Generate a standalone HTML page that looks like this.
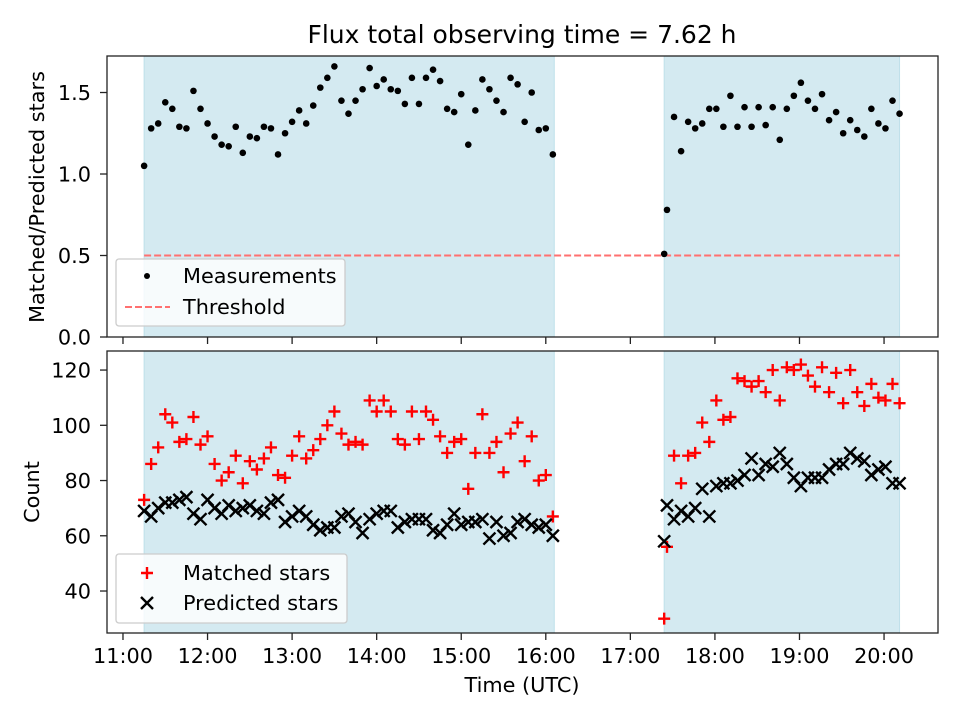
<!DOCTYPE html>
<html><head><meta charset="utf-8"><style>
body{margin:0;background:#fff;}
svg{display:block;font-family:"DejaVu Sans","Liberation Sans",sans-serif;}
</style></head><body>
<svg id="chart" width="960" height="720" xmlns="http://www.w3.org/2000/svg"></svg>
<script>
const times1 = ["11:15","11:20","11:25","11:30","11:35","11:40","11:45","11:50","11:55","12:00","12:05","12:10","12:15","12:20","12:25","12:30","12:35","12:40","12:45","12:50","12:55","13:00","13:05","13:10","13:15","13:20","13:25","13:30","13:35","13:40","13:45","13:50","13:55","14:00","14:05","14:10","14:15","14:20","14:25","14:30","14:35","14:40","14:45","14:50","14:55","15:00","15:05","15:10","15:15","15:20","15:25","15:30","15:35","15:40","15:45","15:50","15:55","16:00","16:05"];
const times2 = ["17:24","17:26","17:31","17:36","17:41","17:46","17:51","17:56","18:01","18:06","18:11","18:16","18:21","18:26","18:31","18:36","18:41","18:46","18:51","18:56","19:01","19:06","19:11","19:16","19:21","19:26","19:31","19:36","19:41","19:46","19:51","19:56","20:01","20:06","20:11"];
const ratio1 = [1.05,1.28,1.31,1.44,1.40,1.29,1.28,1.51,1.40,1.31,1.23,1.18,1.17,1.29,1.13,1.23,1.22,1.29,1.28,1.12,1.25,1.32,1.39,1.31,1.42,1.53,1.59,1.66,1.45,1.37,1.45,1.52,1.65,1.54,1.58,1.52,1.51,1.43,1.59,1.43,1.59,1.64,1.57,1.40,1.38,1.49,1.18,1.39,1.58,1.52,1.45,1.38,1.59,1.55,1.32,1.50,1.27,1.28,1.12];
const ratio2 = [0.51,0.78,1.35,1.14,1.32,1.28,1.31,1.40,1.40,1.29,1.48,1.29,1.41,1.29,1.41,1.30,1.41,1.21,1.40,1.48,1.56,1.45,1.40,1.49,1.33,1.38,1.25,1.33,1.27,1.23,1.40,1.31,1.28,1.45,1.37];
const matched1 = [73,86,92,104,101,94,95,103,93,96,86,80,83,89,79,87,84,88,92,82,81,89,96,88,91,95,100,105,97,93,94,93,109,105,109,105,95,93,105,95,105,102,96,90,94,95,77,90,104,90,94,83,97,101,87,96,80,82,67];
const predicted1 = [69,67,70,72,72,73,74,68,66,73,70,68,71,69,70,71,69,68,72,73,65,67,69,67,64,62,63,63,67,68,65,61,66,68,69,69,63,65,66,66,66,62,61,64,68,64,65,65,66,59,65,60,61,65,66,64,63,64,60];
const matched2 = [30,56,89,79,89,90,101,94,109,102,103,117,116,114,116,112,120,109,121,120,122,118,114,121,112,119,108,120,112,107,115,110,109,115,108];
const predicted2 = [58,71,66,69,67,70,77,67,78,79,79,80,82,88,82,86,85,90,86,81,78,81,81,81,84,86,86,90,88,87,82,84,85,79,79];
const title = "Flux total observing time = 7.62 h";
const xTickLabels = ["11:00","12:00","13:00","14:00","15:00","16:00","17:00","18:00","19:00","20:00"];
const topYTicks = [0.0,0.5,1.0,1.5];
const botYTicks = [40,60,80,100,120];
const spans = [["11:15","16:06"],["17:24","20:11"]];
const threshold = 0.5;

const NS="http://www.w3.org/2000/svg";
const svg=document.getElementById('chart');
function el(tag,attrs,parent){const e=document.createElementNS(NS,tag);for(const k in attrs)e.setAttribute(k,attrs[k]);(parent||svg).appendChild(e);return e;}
function hrs(t){const p=t.split(':');return +p[0]+(+p[1])/60;}
const L=107,R=938,T1=56,B1=337,T2=351,B2=633;
const xMin=10.811,xMax=20.638;
function xs(h){return L+(h-xMin)/(xMax-xMin)*(R-L);}
function y1(v){return B1-(v-0)/(1.724-0)*(B1-T1);}
const yb0=24.8,yb1=126.9;
function y2(v){return B2-(v-yb0)/(yb1-yb0)*(B2-T2);}
const FS=20.8;

function panel(T,B,name){
  const g=el('g',{});
  spans.forEach((s,i)=>{const r=el('rect',{x:xs(hrs(s[0])),y:T,width:xs(hrs(s[1]))-xs(hrs(s[0])),height:B-T,fill:'#d4eaf1',stroke:'#bfe0ea','stroke-width':1},g);
    });
  return g;
}
const gTop=panel(T1,B1,'ratio-panel');
const gBot=panel(T2,B2,'count-panel');

const th=el('line',{x1:xs(hrs(spans[0][0])),x2:xs(hrs(spans[1][1])),y1:y1(threshold),y2:y1(threshold),stroke:'#ff7070','stroke-width':2,'stroke-dasharray':'7,3'},gTop);



function dot(g,t,v){const c=el('circle',{cx:xs(hrs(t)),cy:y1(v),r:3.3,fill:'#000'},g);

}
times1.forEach((t,i)=>dot(gTop,t,ratio1[i]));
times2.forEach((t,i)=>dot(gTop,t,ratio2[i]));

function plus(g,cx,cy,name){const p=el('path',{d:`M${cx-6},${cy}H${cx+6}M${cx},${cy-6}V${cy+6}`,stroke:'#f00','stroke-width':2.4},g);

}
function cross(g,cx,cy,name){const p=el('path',{d:`M${cx-6},${cy-6}L${cx+6},${cy+6}M${cx-6},${cy+6}L${cx+6},${cy-6}`,stroke:'#000','stroke-width':2.4},g);

}
times1.forEach((t,i)=>plus(gBot,xs(hrs(t)),y2(matched1[i]),'matched-point'));
times2.forEach((t,i)=>plus(gBot,xs(hrs(t)),y2(matched2[i]),'matched-point'));
times1.forEach((t,i)=>cross(gBot,xs(hrs(t)),y2(predicted1[i]),'predicted-point'));
times2.forEach((t,i)=>cross(gBot,xs(hrs(t)),y2(predicted2[i]),'predicted-point'));

[[T1,B1,'ratio-frame'],[T2,B2,'count-frame']].forEach(f=>{const r=el('rect',{x:L,y:f[0],width:R-L,height:f[1]-f[0],fill:'none',stroke:'#222','stroke-width':1.3});
});

xTickLabels.forEach(lab=>{const x=xs(hrs(lab));
  el('line',{x1:x,x2:x,y1:B1,y2:B1+7,stroke:'#222','stroke-width':1.3});
  el('line',{x1:x,x2:x,y1:B2,y2:B2+7,stroke:'#222','stroke-width':1.3});
  const tx=el('text',{x:x,y:663,'text-anchor':'middle','font-size':FS,fill:'#000'});tx.textContent=lab;
  });
topYTicks.forEach(v=>{const y=y1(v);el('line',{x1:L-7,x2:L,y1:y,y2:y,stroke:'#222','stroke-width':1.3});
  const tx=el('text',{x:L-16,y:y+7.5,'text-anchor':'end','font-size':FS});tx.textContent=v.toFixed(1);
  });
botYTicks.forEach(v=>{const y=y2(v);el('line',{x1:L-7,x2:L,y1:y,y2:y,stroke:'#222','stroke-width':1.3});
  const tx=el('text',{x:L-16,y:y+7.5,'text-anchor':'end','font-size':FS});tx.textContent=v;
  });

const ti=el('text',{x:522,y:43,'text-anchor':'middle','font-size':25});ti.textContent=title;

const xl=el('text',{x:522,y:692,'text-anchor':'middle','font-size':FS});xl.textContent='Time (UTC)';

const yl1=el('text',{x:0,y:0,'text-anchor':'middle','font-size':FS,transform:'translate(44,197) rotate(-90)'});yl1.textContent='Matched/Predicted stars';

const yl2=el('text',{x:0,y:0,'text-anchor':'middle','font-size':FS,transform:'translate(39,492) rotate(-90)'});yl2.textContent='Count';


const lg1=el('g',{});
el('rect',{x:116,y:259,width:229,height:67,rx:3,fill:'#fff','fill-opacity':0.8,stroke:'#ccc','stroke-width':1.3},lg1);
el('circle',{cx:147,cy:276,r:3,fill:'#000'},lg1);
let t=el('text',{x:183,y:283,'font-size':FS},lg1);t.textContent='Measurements';

el('line',{x1:125,x2:170,y1:307,y2:307,stroke:'#ff7070','stroke-width':2,'stroke-dasharray':'7,3'},lg1);
t=el('text',{x:183,y:314,'font-size':FS},lg1);t.textContent='Threshold';

const lg2=el('g',{});
el('rect',{x:116,y:554,width:231,height:69,rx:3,fill:'#fff','fill-opacity':0.8,stroke:'#ccc','stroke-width':1.3},lg2);
plus(lg2,147,573,'legend-marker-matched');
t=el('text',{x:183,y:580,'font-size':FS},lg2);t.textContent='Matched stars';

cross(lg2,147,603,'legend-marker-predicted');
t=el('text',{x:183,y:610,'font-size':FS},lg2);t.textContent='Predicted stars';

</script>
</body></html>
